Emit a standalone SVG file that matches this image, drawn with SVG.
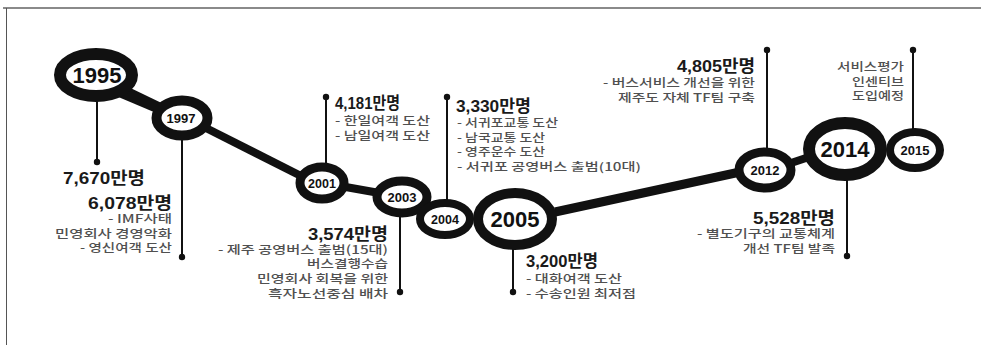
<svg xmlns="http://www.w3.org/2000/svg" width="981" height="345" viewBox="0 0 981 345">
<style>
.ring{fill:#fff;stroke:#111}
.yr{font-family:"Liberation Sans","Noto Sans CJK KR",sans-serif;font-weight:700;fill:#111;text-anchor:middle}
.h{font-family:"Liberation Sans","Noto Sans CJK KR",sans-serif;font-weight:700;font-size:16.5px;fill:#1a1a1a}
.s{font-family:"Noto Sans CJK KR","Liberation Sans",sans-serif;font-size:11.5px;font-weight:500;fill:#505050}
.s2{font-size:11px}
.r{text-anchor:end}
.stem{stroke:#111;stroke-width:2;fill:none}
.link{stroke:#111;fill:none}
</style>
<rect x="0" y="0" width="981" height="345" fill="#fff"/>
<line x1="3" y1="8" x2="981" y2="8" stroke="#8a8a8a" stroke-width="2"/>
<line x1="6.5" y1="8" x2="6.5" y2="345" stroke="#555" stroke-width="1"/>
<g id="connectors">
<path d="M118 82 L172 108 L168 118 L116 96 Z" fill="#111"/>
<line class="link" x1="200" y1="125" x2="305" y2="178" stroke-width="8"/>
<line class="link" x1="340" y1="186" x2="385" y2="194" stroke-width="8"/>
<line class="link" x1="420" y1="205" x2="430" y2="212" stroke-width="8"/>
<line class="link" x1="555" y1="212" x2="740" y2="172" stroke-width="9"/>
<line class="link" x1="785" y1="165" x2="815" y2="155" stroke-width="8"/>
<line class="stem" x1="97" y1="100" x2="97" y2="162"/><circle cx="97" cy="162" r="3.2" fill="#111"/>
<line class="stem" x1="182" y1="138" x2="182" y2="257"/><circle cx="182" cy="257" r="3.2" fill="#111"/>
<line class="stem" x1="326" y1="97" x2="326" y2="165"/><circle cx="326" cy="97" r="3.2" fill="#111"/>
<line class="stem" x1="400" y1="215" x2="400" y2="292"/><circle cx="400" cy="292" r="3.2" fill="#111"/>
<line class="stem" x1="447" y1="97" x2="447" y2="200"/><circle cx="447" cy="97" r="3.2" fill="#111"/>
<line class="stem" x1="513" y1="248" x2="513" y2="292"/><circle cx="513" cy="292" r="3.2" fill="#111"/>
<line class="stem" x1="767" y1="50" x2="767" y2="150"/><circle cx="767" cy="50" r="3.2" fill="#111"/>
<line class="stem" x1="847" y1="180" x2="847" y2="256"/><circle cx="847" cy="256" r="3.2" fill="#111"/>
<line class="stem" x1="913" y1="50" x2="913" y2="130"/><circle cx="913" cy="50" r="3.2" fill="#111"/>
</g>
<g id="n1995"><ellipse class="ring" cx="96" cy="75" rx="36" ry="21" stroke-width="12"/><text class="yr" x="97" y="83" font-size="22">1995</text></g>
<g id="n1997"><ellipse class="ring" cx="182" cy="118" rx="25.5" ry="17.5" stroke-width="10"/><text class="yr" x="181" y="123" font-size="13">1997</text></g>
<g id="n2001"><ellipse class="ring" cx="322" cy="183" rx="22" ry="16" stroke-width="9"/><text class="yr" x="322" y="188" font-size="12.5">2001</text></g>
<g id="n2003"><ellipse class="ring" cx="402" cy="197" rx="25" ry="16" stroke-width="9"/><text class="yr" x="402" y="202" font-size="13">2003</text></g>
<g id="n2004"><ellipse class="ring" cx="445" cy="219" rx="25" ry="16" stroke-width="8"/><text class="yr" x="445" y="224" font-size="12.5">2004</text></g>
<g id="n2005"><ellipse class="ring" cx="515" cy="219" rx="37" ry="26" stroke-width="10"/><text class="yr" x="515" y="227" font-size="22">2005</text></g>
<g id="n2012"><ellipse class="ring" cx="765" cy="170" rx="26" ry="18" stroke-width="9"/><text class="yr" x="765" y="175" font-size="13">2012</text></g>
<g id="n2014"><ellipse class="ring" cx="845" cy="149" rx="36" ry="26" stroke-width="12"/><text class="yr" x="845" y="157" font-size="22">2014</text></g>
<g id="n2015"><ellipse class="ring" cx="915" cy="150" rx="25" ry="18" stroke-width="8"/><text class="yr" x="915" y="155" font-size="13">2015</text></g>
<g id="t1995"><text class="h" x="63" y="184" textLength="82" lengthAdjust="spacingAndGlyphs">7,670만명</text></g>
<g id="t1997">
<text class="h r" x="172" y="208.5" textLength="84" lengthAdjust="spacingAndGlyphs">6,078만명</text>
<text class="s s2 r" x="172" y="223" textLength="64" lengthAdjust="spacingAndGlyphs">- IMF사태</text>
<text class="s s2 r" x="172" y="237.5" textLength="117" lengthAdjust="spacingAndGlyphs">민영회사 경영악화</text>
<text class="s s2 r" x="172" y="252" textLength="92" lengthAdjust="spacingAndGlyphs">- 영신여객 도산</text>
</g>
<g id="t2001">
<text class="h" x="335" y="109" textLength="65" lengthAdjust="spacingAndGlyphs">4,181만명</text>
<text class="s" x="335" y="125" textLength="95" lengthAdjust="spacingAndGlyphs">- 한일여객 도산</text>
<text class="s" x="335" y="140" textLength="95" lengthAdjust="spacingAndGlyphs">- 남일여객 도산</text>
</g>
<g id="t2003">
<text class="h r" x="388" y="240" textLength="80" lengthAdjust="spacingAndGlyphs">3,574만명</text>
<text class="s r" x="388" y="254" textLength="170" lengthAdjust="spacingAndGlyphs">- 제주 공영버스 출범(15대)</text>
<text class="s r" x="388" y="268" textLength="81" lengthAdjust="spacingAndGlyphs">버스결행수습</text>
<text class="s r" x="388" y="283" textLength="131" lengthAdjust="spacingAndGlyphs">민영회사 회복을 위한</text>
<text class="s r" x="388" y="298" textLength="120" lengthAdjust="spacingAndGlyphs">흑자노선중심 배차</text>
</g>
<g id="t2004">
<text class="h" x="456" y="112" textLength="75" lengthAdjust="spacingAndGlyphs">3,330만명</text>
<text class="s s2" x="457" y="127" textLength="101" lengthAdjust="spacingAndGlyphs">- 서귀포교통 도산</text>
<text class="s s2" x="457" y="141.5" textLength="88" lengthAdjust="spacingAndGlyphs">- 남국교통 도산</text>
<text class="s s2" x="457" y="156" textLength="88" lengthAdjust="spacingAndGlyphs">- 영주운수 도산</text>
<text class="s s2" x="457" y="170.5" textLength="184" lengthAdjust="spacingAndGlyphs">- 서귀포 공영버스 출범(10대)</text>
</g>
<g id="t2005">
<text class="h" x="526" y="267" textLength="72" lengthAdjust="spacingAndGlyphs">3,200만명</text>
<text class="s" x="526" y="283" textLength="96" lengthAdjust="spacingAndGlyphs">- 대화여객 도산</text>
<text class="s" x="526" y="298" textLength="110" lengthAdjust="spacingAndGlyphs">- 수송인원 최저점</text>
</g>
<g id="t2012">
<text class="h r" x="755" y="72" textLength="78" lengthAdjust="spacingAndGlyphs">4,805만명</text>
<text class="s r" x="755" y="87" textLength="152" lengthAdjust="spacingAndGlyphs">- 버스서비스 개선을 위한</text>
<text class="s r" x="755" y="102" textLength="137" lengthAdjust="spacingAndGlyphs">제주도 자체 TF팀 구축</text>
</g>
<g id="t2014">
<text class="h r" x="835" y="224" textLength="82" lengthAdjust="spacingAndGlyphs">5,528만명</text>
<text class="s r" x="835" y="238" textLength="138" lengthAdjust="spacingAndGlyphs">- 별도기구의 교통체계</text>
<text class="s r" x="835" y="253" textLength="92" lengthAdjust="spacingAndGlyphs">개선 TF팀 발족</text>
</g>
<g id="t2015">
<text class="s s2 r" x="904" y="71" textLength="67" lengthAdjust="spacingAndGlyphs">서비스평가</text>
<text class="s s2 r" x="904" y="85.5" textLength="52" lengthAdjust="spacingAndGlyphs">인센티브</text>
<text class="s s2 r" x="904" y="100" textLength="52" lengthAdjust="spacingAndGlyphs">도입예정</text>
</g>
</svg>
